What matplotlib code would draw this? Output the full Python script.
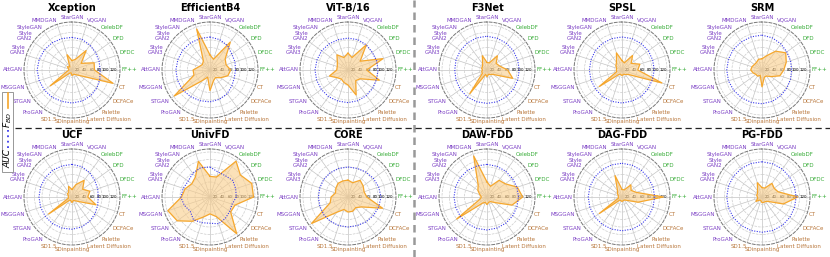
import numpy as np
import matplotlib.pyplot as plt
from matplotlib.lines import Line2D
from matplotlib.patches import Rectangle

categories = ["StarGAN", "VQGAN", "CelebDF", "DFD", "DFDC", "FF++", "CT", "DCFACe",
              "Palette", "Latent Diffusion", "SDinpainting", "SD1.5", "ProGAN", "STGAN",
              "MSGGAN", "AttGAN", "Style\nGAN3", "Style\nGAN2", "StyleGAN", "MMDGAN"]
cat_group = ["gan", "gan", "df", "df", "df", "df", "diff", "diff", "diff", "diff",
             "diff", "diff", "gan", "gan", "gan", "gan", "gan", "gan", "gan", "gan"]
group_color = {"gan": "#7B3FC4", "df": "#33AA33", "diff": "#B8763A"}

models = ["Xception", "EfficientB4", "ViT-B/16", "F3Net", "SPSL", "SRM",
          "UCF", "UnivFD", "CORE", "DAW-FDD", "DAG-FDD", "PG-FDD"]

# F_BD values, one list per detector (category order above)
fbd_xception = [25, 30, 64, 30, 62, 60, 115, 25, 15, 12, 15, 8, 10, 72, 15, 8, 10, 15, 10, 43]
fbd_effb4 = [40, 30, 92, 50, 45, 55, 50, 35, 25, 30, 55, 20, 35, 118, 45, 45, 30, 25, 30, 115]
fbd_vit = [45, 35, 83, 40, 98, 50, 88, 40, 35, 70, 40, 35, 30, 35, 52, 30, 30, 35, 50, 35]
fbd_f3net = [20, 20, 47, 30, 35, 55, 72, 20, 15, 12, 18, 12, 78, 15, 15, 12, 15, 15, 20, 40]
fbd_spsl = [25, 20, 48, 30, 50, 42, 112, 20, 15, 12, 15, 12, 15, 75, 15, 15, 15, 20, 25, 48]
fbd_srm = [30, 40, 62, 78, 68, 58, 50, 30, 20, 20, 45, 15, 20, 20, 25, 30, 28, 25, 25, 30]
fbd_ucf = [20, 35, 55, 35, 50, 42, 67, 20, 12, 10, 15, 10, 10, 77, 10, 10, 10, 15, 15, 30]
fbd_univfd = [55, 56, 118, 100, 117, 116, 70, 68, 121, 55, 45, 56, 80, 108, 118, 76, 70, 60, 66, 100]
fbd_core = [45, 40, 55, 50, 45, 50, 97, 45, 35, 40, 40, 35, 50, 120, 50, 45, 35, 40, 45, 45]
fbd_dawfdd = [40, 30, 55, 60, 85, 95, 70, 25, 15, 15, 20, 15, 20, 100, 20, 15, 20, 30, 40, 115]
fbd_dagfdd = [20, 20, 40, 30, 40, 110, 45, 15, 10, 10, 12, 10, 10, 75, 10, 10, 10, 15, 20, 60]
fbd_pgfdd = [25, 25, 45, 40, 45, 95, 60, 20, 15, 15, 15, 10, 10, 20, 12, 12, 15, 15, 20, 40]

# AUC values
auc_xception = [87, 86, 82, 78, 76, 75, 78, 82, 85, 87, 88, 88, 90, 91, 92, 93, 92, 91, 90, 88]
auc_effb4 = [88, 85, 80, 72, 70, 68, 68, 72, 78, 82, 85, 86, 88, 90, 91, 91, 90, 90, 89, 88]
auc_vit = [85, 85, 83, 80, 80, 80, 80, 82, 84, 86, 87, 87, 88, 88, 88, 88, 87, 87, 86, 85]
auc_f3net = [90, 89, 88, 87, 86, 86, 86, 87, 88, 89, 89, 89, 89, 88, 87, 86, 87, 88, 89, 90]
auc_spsl = [88, 88, 87, 87, 86, 86, 85, 86, 87, 87, 88, 88, 88, 87, 87, 87, 87, 88, 88, 88]
auc_srm = [93, 90, 86, 82, 80, 79, 80, 82, 85, 88, 90, 91, 92, 93, 94, 94, 94, 94, 93, 93]
auc_ucf = [87, 85, 80, 75, 72, 70, 72, 76, 80, 84, 86, 87, 88, 88, 88, 88, 88, 88, 88, 87]
auc_univfd = [80, 70, 70, 75, 72, 70, 62, 65, 70, 75, 70, 72, 75, 65, 72, 78, 75, 72, 78, 82]
auc_core = [80, 80, 82, 84, 86, 88, 86, 84, 82, 80, 80, 80, 80, 80, 79, 79, 79, 80, 80, 80]
auc_dawfdd = [87, 86, 85, 84, 84, 84, 84, 85, 86, 87, 88, 88, 88, 88, 88, 88, 88, 88, 88, 87]
auc_dagfdd = [90, 89, 88, 87, 87, 87, 87, 88, 89, 90, 90, 90, 90, 90, 90, 90, 90, 90, 90, 90]
auc_pgfdd = [94, 93, 92, 91, 91, 91, 91, 92, 93, 94, 94, 94, 94, 94, 94, 94, 94, 94, 94, 94]

fbd_all = [fbd_xception, fbd_effb4, fbd_vit, fbd_f3net, fbd_spsl, fbd_srm,
           fbd_ucf, fbd_univfd, fbd_core, fbd_dawfdd, fbd_dagfdd, fbd_pgfdd]
auc_all = [auc_xception, auc_effb4, auc_vit, auc_f3net, auc_spsl, auc_srm,
           auc_ucf, auc_univfd, auc_core, auc_dawfdd, auc_dagfdd, auc_pgfdd]

W, H = 830, 257
fig = plt.figure(figsize=(W / 100, H / 100), dpi=100)

n = len(categories)
theta = np.arange(n) * 2 * np.pi / n
theta_closed = np.append(theta, theta[0])

col_x = [72, 210, 348, 487, 622, 762]
row_y = [70, 197]
rad = 48

for k, name in enumerate(models):
    cx, cy = col_x[k % 6], row_y[k // 6]
    ax = fig.add_axes([(cx - rad) / W, 1 - (cy + rad) / H, 2 * rad / W, 2 * rad / H],
                      projection="polar")
    ax.set_theta_offset(np.pi / 2)
    ax.set_theta_direction(-1)
    f = np.append(fbd_all[k], fbd_all[k][0])
    a = np.append(auc_all[k], auc_all[k][0])
    ax.fill(theta_closed, f, color="#F9CD8A", alpha=0.6, zorder=2)
    ax.plot(theta_closed, f, color="#F5A62B", lw=0.8, zorder=3)
    ax.plot(theta_closed, a, color="#3A3AEB", lw=0.8, ls=(0, (1, 1.3)), zorder=4)
    ax.set_ylim(0, 128)
    ax.set_yticks([20, 40, 60, 80, 100, 120])
    ax.set_yticklabels(["20", "40", "60", "80", "100", "120"], fontsize=2.9)
    ax.set_rlabel_position(90)
    for t in ax.get_yticklabels():
        t.set_horizontalalignment("right")
        t.set_verticalalignment("center")
    ax.set_xticks(theta)
    ax.set_xticklabels([])
    ax.tick_params(axis="x", length=0)
    ax.tick_params(axis="y", pad=0)
    ax.grid(True, color="#CCCCCC", lw=0.5, ls="--")
    ax.xaxis.grid(True, color="#C4C4C4", lw=0.5, ls="-")
    ax.spines["polar"].set_linestyle((0, (3, 2)))
    ax.spines["polar"].set_color("#777777")
    ax.spines["polar"].set_linewidth(0.7)
    for i, lab in enumerate(categories):
        ang = np.deg2rad(90 - 18 * i)
        c, s = np.cos(ang), np.sin(ang)
        ha = "left" if c > 0.15 else ("right" if c < -0.15 else "center")
        va = "bottom" if s > 0.15 else ("top" if s < -0.15 else "center")
        ax.text(theta[i], 132, lab, ha=ha, va=va, fontsize=4.0, linespacing=1.0,
                color=group_color[cat_group[i]], clip_on=False)
    ax.set_title(name, fontsize=7, fontweight="bold", pad=8)

# separators
fig.add_artist(Line2D([414 / W, 414 / W], [0, 1], color="#999999", lw=1.8,
                      ls=(0, (3, 2))))
fig.add_artist(Line2D([15 / W, 1], [1 - 128 / H, 1 - 128 / H], color="#222222", lw=0.9,
                      ls=(0, (5, 3))))

# legend (rotated)
fig.add_artist(Rectangle((2 / W, 1 - 172 / H), 11 / W, 80 / H, fill=True,
                         facecolor="white", edgecolor="#888888", lw=0.6))
fig.add_artist(Line2D([7.5 / W, 7.5 / W], [1 - 108 / H, 1 - 93 / H], color="#F5A62B", lw=1.2))
fig.text(8 / W, 1 - 120 / H, "$F_{BD}$", rotation=90, ha="center", va="center", fontsize=6.5)
fig.add_artist(Line2D([7.5 / W, 7.5 / W], [1 - 148 / H, 1 - 130 / H], color="#3A3AEB", lw=1.3,
                      ls=(0, (1, 2))))
fig.text(8 / W, 1 - 159 / H, "AUC", rotation=90, ha="center", va="center", fontsize=6.5,
         style="italic")

fig.savefig("out.png", dpi=100)
